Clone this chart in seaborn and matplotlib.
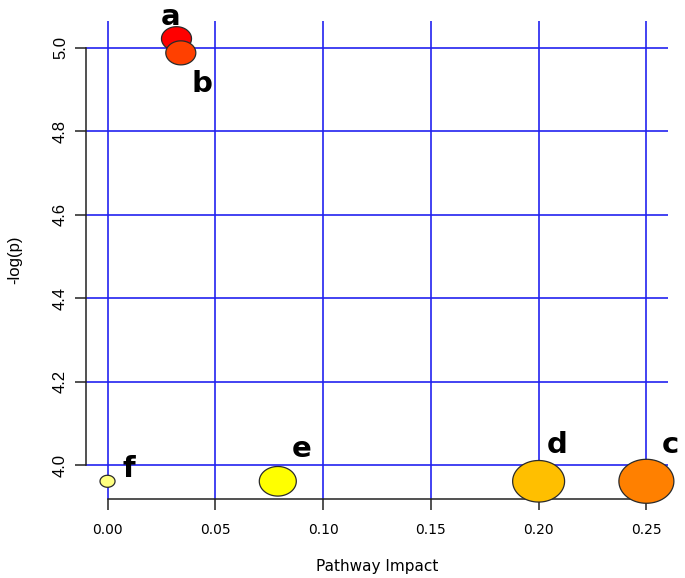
import numpy as np
import pandas as pd
import matplotlib
matplotlib.use('Agg')
import matplotlib.pyplot as plt
from matplotlib.path import Path
import seaborn as sns

# Pathway data
labels = ['a', 'b', 'c', 'd', 'e', 'f']
impact = [0.032, 0.034, 0.25, 0.20, 0.079, 0.0]
neg_log_p = [5.022, 4.988, 3.961, 3.961, 3.961, 3.961]
colors = ['#FF0000', '#FF4000', '#FF8000', '#FFBF00', '#FFFF00', '#FFFF80']

x_ticks = [0.00, 0.05, 0.10, 0.15, 0.20, 0.25]
y_ticks = [4.0, 4.2, 4.4, 4.6, 4.8, 5.0]

df = pd.DataFrame({'label': labels, 'impact': impact, 'neg_log_p': neg_log_p})

# Marker areas (pt^2) and label offsets (pixels) - style only
areas = [467, 467, 1568, 1400, 710, 117]
offsets = {'a': (-6, 14), 'b': (21, -39), 'c': (24, 28),
           'd': (19, 28), 'e': (24, 24), 'f': (21, 4)}

# Slightly flattened circle, like the reference image
t = np.linspace(0, 2 * np.pi, 80)
ellipse = Path(np.column_stack([np.cos(t), 0.8 * np.sin(t)]), closed=True)

sns.set_theme(style='white')
plt.rcParams['font.family'] = ['DejaVu Sans']
plt.rcParams['text.color'] = 'black'
plt.rcParams['axes.labelcolor'] = 'black'
plt.rcParams['xtick.color'] = 'black'
plt.rcParams['ytick.color'] = 'black'

fig = plt.figure(figsize=(6.85, 5.78), dpi=100)
ax = fig.add_axes([0.1255, 0.1367, 0.8496, 0.827])

sns.scatterplot(data=df, x='impact', y='neg_log_p', hue='label',
                palette=dict(zip(labels, colors)), size='label',
                sizes=dict(zip(labels, areas)), marker=ellipse,
                edgecolor='#2a2a2a', linewidth=0.9, legend=False,
                ax=ax, zorder=3, clip_on=False)

# Point labels
for lab, x, y in zip(labels, impact, neg_log_p):
    ax.annotate(lab, (x, y), xytext=offsets[lab], textcoords='offset pixels',
                ha='center', va='baseline', fontsize=21, fontweight='bold',
                color='black')

# R-style axis ranges (4% extension)
xr = max(impact) - min(impact)
yr = max(neg_log_p) - min(neg_log_p)
ax.set_xlim(min(impact) - 0.04 * xr, max(impact) + 0.04 * xr)
ax.set_ylim(min(neg_log_p) - 0.04 * yr, max(neg_log_p) + 0.04 * yr)

ax.set_xticks(x_ticks)
ax.set_xticklabels([f'{v:.2f}' for v in x_ticks], fontsize=10)
ax.set_yticks(y_ticks)
ax.set_yticklabels([f'{v:.1f}' for v in y_ticks], fontsize=12,
                   rotation=90, va='center', family='Liberation Sans')

ax.grid(True, color='#2222f0', linewidth=1.2)
ax.set_axisbelow(True)

for side in ['top', 'right']:
    ax.spines[side].set_visible(False)
ax.spines['left'].set_bounds(4.0, 5.0)
ax.spines['bottom'].set_bounds(0.0, 0.25)
for side in ['left', 'bottom']:
    ax.spines[side].set_color('#222222')
    ax.spines[side].set_linewidth(1.1)

ax.tick_params(axis='both', length=8, width=1.1, color='#222222',
               left=True, bottom=True)
ax.tick_params(axis='x', pad=9)
ax.tick_params(axis='y', pad=5)

ax.set_xlabel('Pathway Impact', fontsize=11, labelpad=16)
ax.set_ylabel('-log(p)', fontsize=12, family='Liberation Sans', labelpad=22)

fig.savefig('out.png', dpi=100)
